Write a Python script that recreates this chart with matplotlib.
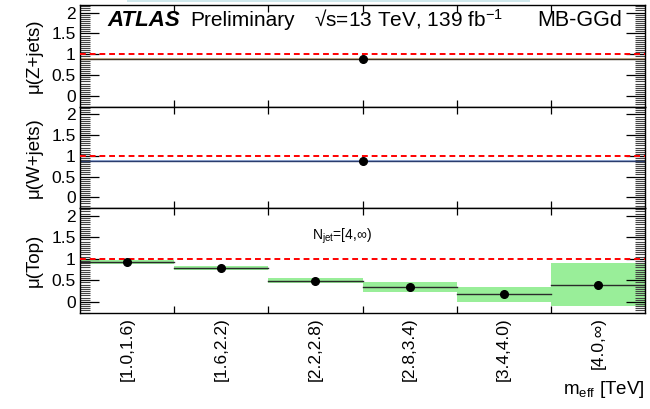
import matplotlib
matplotlib.use("Agg")
import matplotlib.pyplot as plt
from matplotlib.patches import Rectangle
from matplotlib.ticker import FixedLocator
import numpy as np

plt.rcParams['font.family'] = ['Liberation Sans', 'DejaVu Sans']
plt.rcParams['mathtext.fontset'] = 'custom'
plt.rcParams['mathtext.rm'] = 'Liberation Sans'
plt.rcParams['mathtext.it'] = 'Liberation Sans:italic'
plt.rcParams['ytick.minor.visible'] = True

# m_eff bins
bin_labels = ["[1.0,1.6)", "[1.6,2.2)", "[2.2,2.8)", "[2.8,3.4)", "[3.4,4.0)", "[4.0,\u221e)"]

# normalisation factors
mu_z, err_z = 0.90, 0.012
mu_w, err_w = 0.88, 0.012
mu_top = [0.93, 0.78, 0.49, 0.34, 0.17, 0.40]
err_top = [0.04, 0.045, 0.06, 0.11, 0.17, 0.50]

nb = len(bin_labels)
edges = np.arange(nb + 1)
centers = edges[:-1] + 0.5

fig = plt.figure(figsize=(6.5, 4.09), dpi=100)
W, H = 650.0, 409.0
left, right = 80 / W, 645 / W
panels = [(5, 107), (107, 208), (208, 313)]
axes = []
for top, bot in panels:
    ax = fig.add_axes([left, 1 - bot / H, right - left, (bot - top) / H])
    axes.append(ax)

ylabels = ["\u03bc(Z+jets)", "\u03bc(W+jets)", "\u03bc(Top)"]
minor_y = [round(v, 2) for v in np.arange(-0.25, 2.2, 0.05) if round(v, 2) % 0.5 != 0]
for ax, lab in zip(axes, ylabels):
    ax.set_xlim(0, nb)
    ax.set_ylim(-0.26, 2.18)
    ax.set_yticks([0, 0.5, 1, 1.5, 2])
    ax.set_yticklabels(["0", "0.5", "1", "1.5", "2"])
    ax.yaxis.set_minor_locator(FixedLocator(minor_y))
    ax.tick_params(axis='y', which='major', direction='in', length=14, width=0.9,
                   right=True, labelsize=12.5, pad=3)
    ax.tick_params(axis='y', which='minor', direction='in', length=7, width=0.8,
                   right=True, left=True, color='#444444')
    ax.set_ylabel(lab, fontsize=13.5)
    ax.yaxis.set_label_coords(-0.066, 0.5)
    ax.axhline(1.0, color='red', ls=(0, (3, 2)), lw=1.4, zorder=3)
    for s in ax.spines.values():
        s.set_linewidth(1.0)

# Z+jets
ax = axes[0]
ax.axhspan(mu_z - err_z, mu_z + err_z, color='#d2c09a', lw=0)
ax.axhline(mu_z, color='#3c3222', lw=1.0)
ax.plot([3], [mu_z], 'o', color='black', ms=5.5, zorder=5)

# W+jets
ax = axes[1]
ax.axhspan(mu_w - err_w, mu_w + err_w, color='#9fb4dc', lw=0)
ax.axhline(mu_w, color='#2a3d6e', lw=1.0)
ax.plot([3], [mu_w], 'o', color='black', ms=5.5, zorder=5)

# Top
ax = axes[2]
for i in range(nb):
    ax.fill_between([edges[i], edges[i + 1]], mu_top[i] - err_top[i], mu_top[i] + err_top[i],
                    color='#99ee99', lw=0, zorder=1)
    ax.plot([edges[i], edges[i + 1]], [mu_top[i], mu_top[i]], color='#2a2a2a', lw=1.0, zorder=2)
ax.plot(centers, mu_top, 'o', color='black', ms=5.5, zorder=5)

# bin edges as x ticks on every panel, bin names only on the bottom one
for i, ax in enumerate(axes):
    ax.set_xticks(edges[1:-1])
    ax.tick_params(axis='x', which='major', direction='in', length=5, width=0.9,
                   top=True, bottom=True, labelbottom=False)
    ax.xaxis.set_minor_locator(FixedLocator([]))
ax = axes[2]
for c, lab in zip(centers, bin_labels):
    ax.text(c, -0.04, lab, transform=ax.get_xaxis_transform(), rotation=90,
            ha='center', va='top', fontsize=12.5)
ax.text(0.41, 0.70, r"N$_{\mathrm{jet}}$=[4,$\infty$)", transform=ax.transAxes, fontsize=10)

# header texts
fig.text(107 / W, 1 - 26 / H, "ATLAS", fontsize=16, fontweight='bold', fontstyle='italic')
fig.text(190 / W, 1 - 26 / H, "Preliminary", fontsize=15)
fig.text(314 / W, 1 - 26 / H, "\u221as=13 TeV, 139 fb$^{\\mathrm{-1}}$", fontsize=15)
fig.text(622 / W, 1 - 26 / H, "MB-GGd", fontsize=15.5, ha='right')

fig.text(645 / W, 1 - 394 / H, r"m$_{\mathrm{eff}}$ [TeV]", fontsize=13.5, ha='right')

# light strip at the top edge
fig.patches.append(Rectangle((127 / W, 1 - 2 / H), (530 - 127) / W, 2 / H,
                             transform=fig.transFigure, color='#cfe8ec', lw=0))

fig.savefig("out.png", dpi=100)
